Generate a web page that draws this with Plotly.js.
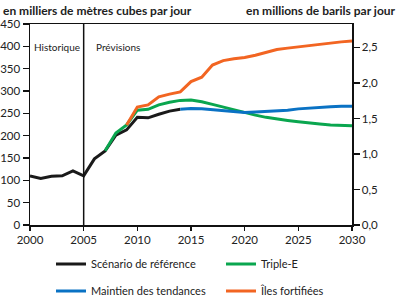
<!DOCTYPE html>
<html>
<head>
<meta charset="utf-8">
<script src="https://cdn.plot.ly/plotly-3.0.1.min.js"></script>
<style>
  html, body { margin: 0; padding: 0; background: #fff; }
  #chart { width: 400px; height: 304px; }
</style>
</head>
<body>
<div id="chart"></div>
<script>
// Values (thousands of m3 per day)
const refYears = [2000, 2001, 2002, 2003, 2004, 2005, 2006, 2007, 2008, 2009, 2010, 2011, 2012, 2013, 2014];
const refValues = [110, 104, 109, 110, 121, 110, 148, 166, 201, 213, 241, 240, 248, 255, 259];

const tripleYears = [2007, 2008, 2009, 2010, 2011, 2012, 2013, 2014, 2015, 2016, 2017, 2018, 2019, 2020, 2021, 2022, 2023, 2024, 2025, 2026, 2027, 2028, 2029, 2030];
const tripleValues = [166, 206, 224, 257, 259, 269, 275, 279, 280, 276, 270, 264, 258, 251, 246, 241, 237, 234, 231, 228, 226, 224, 223, 222];

const trendYears = [2014, 2015, 2016, 2017, 2018, 2019, 2020, 2021, 2022, 2023, 2024, 2025, 2026, 2027, 2028, 2029, 2030];
const trendValues = [259, 261, 260, 258, 257, 255, 252, 253, 254, 255, 257, 260, 262, 263, 265, 266, 266];

const islandYears = [2009, 2010, 2011, 2012, 2013, 2014, 2015, 2016, 2017, 2018, 2019, 2020, 2021, 2022, 2023, 2024, 2025, 2026, 2027, 2028, 2029, 2030];
const islandValues = [224, 264, 269, 287, 293, 298, 321, 331, 358, 368, 372, 375, 380, 387, 393, 396, 399, 402, 404, 408, 410, 412];

const seriesNames = ['Scénario de référence', 'Triple-E', 'Maintien des tendances', 'Îles fortifiées'];
const COLORS = ['#1a1a1a', '#0aa64f', '#0a72c4', '#f26522'];

const xTicks = [2000, 2005, 2010, 2015, 2020, 2025, 2030];
const leftTicks = [0, 50, 100, 150, 200, 250, 300, 350, 400, 450];
const rightTicks = [0, 0.5, 1.0, 1.5, 2.0, 2.5];
const M3_TO_BBL = 0.0062898; // thousand m3/d -> million bbl/d
const Y_MAX = 450;

const FONT = 'Lato, "Open Sans", sans-serif';

function lineTrace(x, y, idx, legend) {
    return {
        x: x, y: y,
        name: seriesNames[idx],
        mode: 'lines',
        line: { color: COLORS[idx], width: 3 },
        legend: legend
    };
}

const traces = [
    lineTrace(refYears, refValues, 0, 'legend'),
    lineTrace(tripleYears, tripleValues, 1, 'legend2'),
    lineTrace(trendYears, trendValues, 2, 'legend3'),
    lineTrace(islandYears, islandValues, 3, 'legend4'),
    // empty trace so the right-hand (million bbl/d) axis gets drawn
    { x: [], y: [], yaxis: 'y2', mode: 'lines', showlegend: false, hoverinfo: 'skip' }
];

// one single-entry legend per slot of the 2x2 legend grid
function legendAt(px, py) {
    return {
        xref: 'container', yref: 'container',
        x: px / 400, y: 1 - py / 304,
        xanchor: 'left', yanchor: 'middle',
        font: { family: FONT, size: 11, color: '#222' },
        bgcolor: 'rgba(0,0,0,0)',
        itemwidth: 30
    };
}

const layout = {
    width: 400,
    height: 304,
    margin: { l: 30, r: 48, t: 24, b: 79, autoexpand: false },
    paper_bgcolor: '#fff',
    plot_bgcolor: '#fff',
    separators: ', ',
    font: { family: FONT, size: 11, color: '#222' },
    showlegend: true,
    xaxis: {
        range: [2000, 2030],
        tickvals: xTicks,
        ticks: 'outside', ticklen: 4, tickwidth: 1.5, tickcolor: '#111',
        showline: true, linecolor: '#111', linewidth: 1.5, mirror: true,
        showgrid: false, zeroline: false,
        tickfont: { family: FONT, size: 11.5, color: '#222' }
    },
    yaxis: {
        range: [0, Y_MAX],
        tickvals: leftTicks,
        ticks: 'outside', ticklen: 6, tickwidth: 1.5, tickcolor: '#111',
        showline: true, linecolor: '#111', linewidth: 1.5,
        showgrid: false, zeroline: false,
        tickfont: { family: FONT, size: 11.5, color: '#222' }
    },
    yaxis2: {
        overlaying: 'y', side: 'right',
        range: [0, Y_MAX * M3_TO_BBL],
        tickvals: rightTicks,
        tickformat: '.1f',
        ticks: 'outside', ticklen: 6, tickwidth: 1.5, tickcolor: '#111',
        showline: true, linecolor: '#111', linewidth: 1.5,
        showgrid: false, zeroline: false,
        tickfont: { family: FONT, size: 11.5, color: '#222' }
    },
    shapes: [{
        type: 'line', xref: 'x', yref: 'y',
        x0: 2005, x1: 2005, y0: 0, y1: Y_MAX,
        line: { color: '#111', width: 1.5 }
    }],
    annotations: [
        { xref: 'x', yref: 'y', x: 2002.5, y: 398, text: 'Historique', showarrow: false,
          font: { family: FONT, size: 10, color: '#222' } },
        { xref: 'x', yref: 'y', x: 2006, y: 398, text: 'Prévisions', showarrow: false, xanchor: 'left',
          font: { family: FONT, size: 10, color: '#222' } },
        { xref: 'paper', yref: 'paper', x: -0.090, y: 1.0, yshift: 14, text: '<b>en milliers de mètres cubes par jour</b>',
          showarrow: false, xanchor: 'left', yanchor: 'middle',
          font: { family: FONT, size: 12, color: '#222' } },
        { xref: 'paper', yref: 'paper', x: 1.143, y: 1.0, yshift: 14, text: '<b>en millions de barils par jour</b>',
          showarrow: false, xanchor: 'right', yanchor: 'middle',
          font: { family: FONT, size: 12, color: '#222' } }
    ],
    legend: legendAt(51, 264),
    legend2: legendAt(221, 264),
    legend3: legendAt(51, 291),
    legend4: legendAt(221, 291)
};

Plotly.newPlot('chart', traces, layout, { staticPlot: true, displayModeBar: false });
</script>
</body>
</html>
